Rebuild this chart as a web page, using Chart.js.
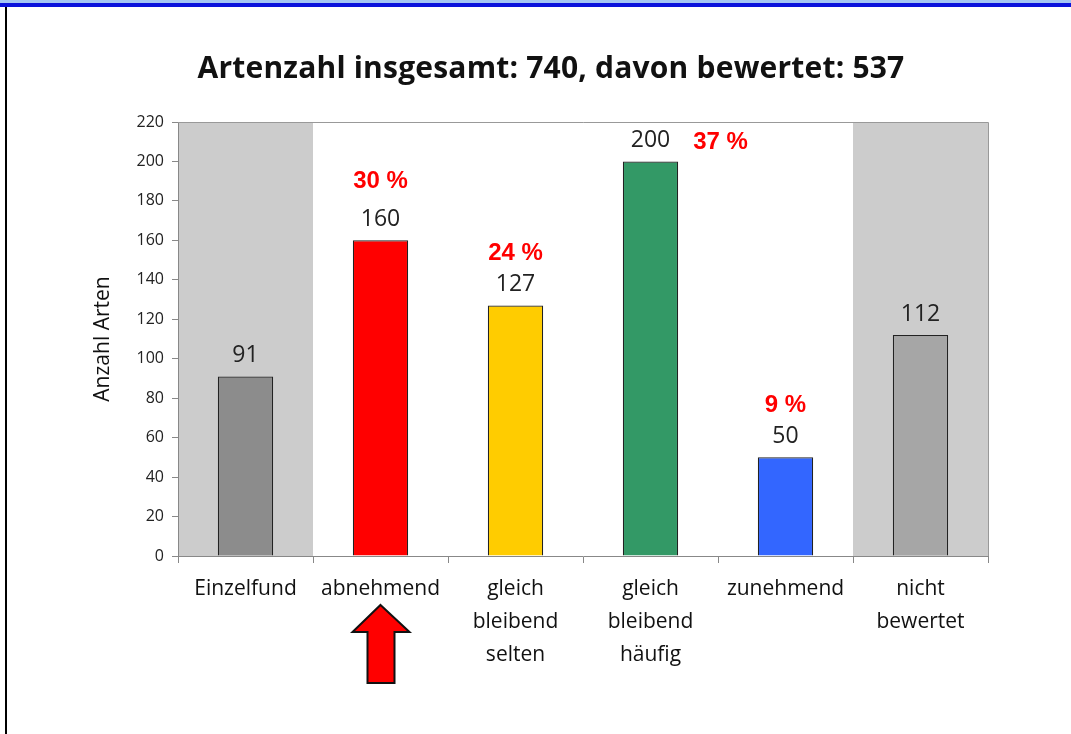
<!DOCTYPE html>
<html>
<head>
<meta charset="utf-8">
<script src="https://cdn.jsdelivr.net/npm/chart.js@4/dist/chart.umd.min.js"></script>
<style>
html, body { margin: 0; padding: 0; background: #fff; }
#page { position: relative; width: 1071px; height: 734px; overflow: hidden; }
#topband { position: absolute; left: 0; top: 0; width: 1071px; height: 3px; background: #a4c6f4; }
#topline { position: absolute; left: 0; top: 3px; width: 1071px; height: 4px; background: #0a12dc; }
#leftline { position: absolute; left: 5px; top: 7px; width: 2px; height: 727px; background: #000; }
#title { position: absolute; left: 0; top: 46px; width: 1102px; text-align: center;
         font: bold 30px "Open Sans", sans-serif; color: #111; letter-spacing: 0.2px; }
canvas { position: absolute; left: 0; top: 0; }
</style>
</head>
<body>
<div id="page">
  <div id="topband"></div>
  <div id="topline"></div>
  <div id="leftline"></div>
  <canvas id="chart" width="1071" height="734"></canvas>
  <div id="title">Artenzahl insgesamt: 740, davon bewertet: 537</div>
</div>
<script>
// data
var categories = [['Einzelfund'], ['abnehmend'], ['gleich', 'bleibend', 'selten'],
                  ['gleich', 'bleibend', 'häufig'], ['zunehmend'], ['nicht', 'bewertet']];
var counts = [91, 160, 127, 200, 50, 112];
var percentLabels = ['', '30 %', '24 %', '37 %', '9 %', ''];
var barColors = ['#8c8c8c', '#ff0000', '#ffcc00', '#339966', '#3366ff', '#a6a6a6'];
var shadedCategories = [0, 5];
var yMax = 220;
var yStep = 20;
var yTitle = 'Anzahl Arten';
var arrowCategory = 1;

// grey bands behind the first and last category
var bandsPlugin = {
  id: 'bands',
  beforeDraw: function(chart) {
    var ctx = chart.ctx, area = chart.chartArea, x = chart.scales.x;
    var half = (area.right - area.left) / categories.length / 2;
    ctx.save();
    ctx.fillStyle = '#cccccc';
    shadedCategories.forEach(function(i) {
      var cx = x.getPixelForValue(i);
      ctx.fillRect(cx - half, area.top, half * 2, area.bottom - area.top);
    });
    ctx.restore();
  },
  afterDatasetsDraw: function(chart) {
    var ctx = chart.ctx, area = chart.chartArea;
    // frame top and right
    ctx.save();
    ctx.strokeStyle = '#999999';
    ctx.lineWidth = 1;
    ctx.beginPath();
    ctx.moveTo(area.left, area.top + 0.5);
    ctx.lineTo(area.right + 0.5, area.top + 0.5);
    ctx.lineTo(area.right + 0.5, area.bottom);
    ctx.stroke();

    // value labels and percentages
    var meta = chart.getDatasetMeta(0);
    ctx.textAlign = 'center';
    ctx.textBaseline = 'middle';
    meta.data.forEach(function(bar, i) {
      ctx.fillStyle = '#222';
      ctx.font = '23px "Open Sans", sans-serif';
      ctx.fillText(counts[i], bar.x, bar.y - 21);
      if (percentLabels[i]) {
        ctx.fillStyle = '#ff0000';
        ctx.font = 'bold 24px "Liberation Sans", Arial, sans-serif';
        if (i === 3) {
          ctx.fillText(percentLabels[i], bar.x + 70, bar.y - 19);
        } else {
          ctx.fillText(percentLabels[i], bar.x, bar.y - (i === 1 ? 59 : 52));
        }
      }
    });
    ctx.restore();
  },
  afterDraw: function(chart) {
    // red arrow pointing at "abnehmend"
    var ctx = chart.ctx;
    var cx = chart.scales.x.getPixelForValue(arrowCategory);
    ctx.save();
    ctx.beginPath();
    ctx.moveTo(cx, 605);
    ctx.lineTo(cx + 29, 632);
    ctx.lineTo(cx + 14, 632);
    ctx.lineTo(cx + 14, 683);
    ctx.lineTo(cx - 13, 683);
    ctx.lineTo(cx - 13, 632);
    ctx.lineTo(cx - 28, 632);
    ctx.closePath();
    ctx.fillStyle = '#ff0000';
    ctx.fill();
    ctx.lineWidth = 2;
    ctx.strokeStyle = '#111';
    ctx.stroke();
    ctx.restore();
  }
};

var ctx = document.getElementById('chart').getContext('2d');
var chart = new Chart(ctx, {
  type: 'bar',
  data: {
    labels: categories,
    datasets: [{
      data: counts,
      backgroundColor: barColors,
      borderColor: '#222222',
      borderWidth: 1.2,
      barPercentage: 0.41,
      categoryPercentage: 1
    }]
  },
  options: {
    responsive: false,
    animation: false,
    layout: { padding: { left: 0, right: 83, top: 122, bottom: 0 } },
    plugins: {
      legend: { display: false },
      tooltip: { enabled: false }
    },
    scales: {
      x: {
        offset: true,
        afterFit: function(scale) { scale.height = 178; },
        grid: { offset: true, drawOnChartArea: false, tickLength: 7, color: '#888888' },
        border: { color: '#888888' },
        ticks: {
          color: '#111',
          padding: 10,
          maxRotation: 0,
          font: { family: '"Open Sans", sans-serif', size: 21, lineHeight: 1.57 }
        }
      },
      y: {
        min: 0,
        max: yMax,
        afterFit: function(scale) { scale.width = 178; },
        grid: { drawOnChartArea: false, tickLength: 6, color: '#888888' },
        border: { color: '#888888' },
        ticks: {
          stepSize: yStep,
          color: '#222',
          padding: 8,
          font: { family: '"Open Sans", sans-serif', size: 16 }
        },
        title: {
          display: true,
          text: yTitle,
          color: '#111',
          padding: { top: 90, bottom: 0 },
          font: { family: '"Open Sans", sans-serif', size: 21, lineHeight: 1.2 }
        }
      }
    }
  },
  plugins: [bandsPlugin]
});
</script>
</body>
</html>
